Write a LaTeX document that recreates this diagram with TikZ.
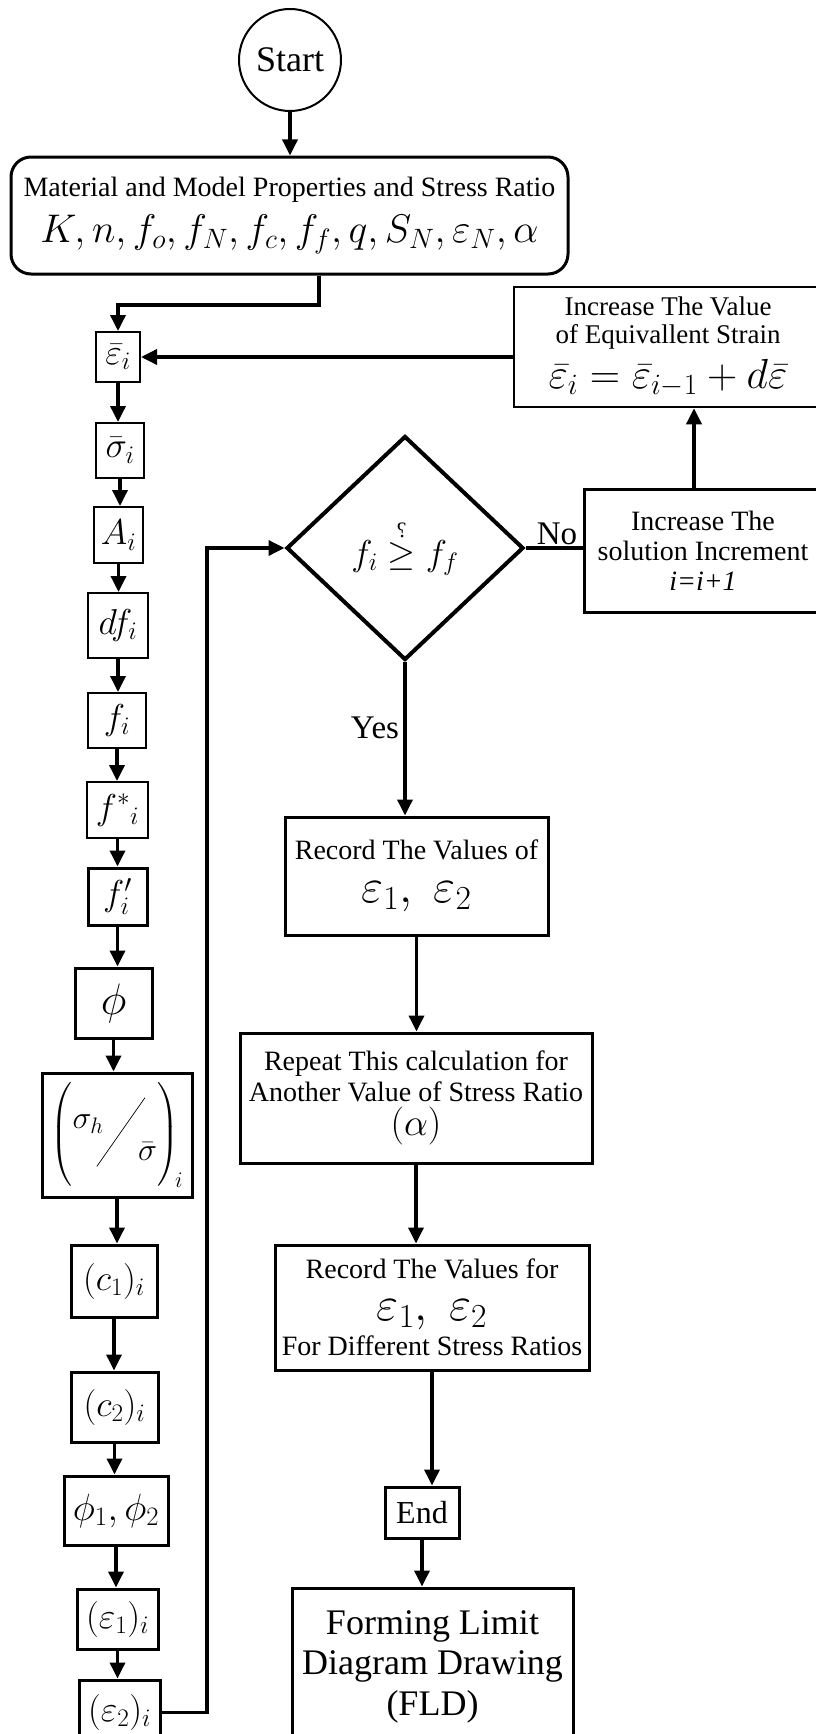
\RequirePackage{fix-cm}
\documentclass[tikz,border=0pt]{standalone}
\usepackage{amsmath}
\usepackage{fontspec}
\setmainfont{Liberation Serif}
\usetikzlibrary{shapes.geometric,arrows.meta}
\tikzset{
  bx/.style={draw, line width=2pt, inner sep=0pt, align=center, font=\fontsize{28}{31}\selectfont},
  bxt/.style={bx, line width=3pt},
  mth/.style={font=\fontsize{36}{40}\selectfont},
  arr/.style={line width=3.5pt, -{Triangle[length=16pt,width=15pt]}},
  ln/.style={line width=3.5pt},
  lbl/.style={inner sep=0pt, font=\fontsize{33}{36}\selectfont, anchor=base},
}
\begin{document}
\begin{tikzpicture}[x=1pt,y=-1pt]
\useasboundingbox (0,0) rectangle (816,1734);
\clip (0,0) rectangle (816,1734);
\fill[white] (0,0) rectangle (816,1734);

% top
\node[draw, circle, line width=2pt, minimum size=102pt, inner sep=0pt, font=\fontsize{36}{40}\selectfont] (start) at (290,60) {Start};
\node[bx, line width=3pt, rounded corners=20pt, minimum width=557pt, minimum height=117pt] (mat) at (289.5,215.5)
 {Material and Model Properties and Stress Ratio\\[12pt]{\fontsize{40}{44}\selectfont$K, n, f_o, f_N, f_c, f_f, q, S_N, \varepsilon_N, \alpha$}};

% left column
\node[bx, mth, minimum width=44pt, minimum height=50pt] (eb) at (118,357) {$\bar{\varepsilon}_i$};
\node[bx, mth, minimum width=48pt, minimum height=55pt] (sb) at (120,450.5) {$\bar{\sigma}_i$};
\node[bx, mth, minimum width=49pt, minimum height=56pt] (Ab) at (118.5,535) {$A_i$};
\node[bx, mth, minimum width=60pt, minimum height=65pt] (dfb) at (118,625.5) {$df_i$};
\node[bx, mth, minimum width=58pt, minimum height=55pt] (fb) at (117,720.5) {$f_i$};
\node[bx, mth, minimum width=61pt, minimum height=56pt] (fsb) at (117.5,810) {$f^{*}{}_{i}$};
\node[bxt, mth, minimum width=59pt, minimum height=57pt] (fpb) at (117.5,896.5) {$f'_i$};
\node[bxt, font=\fontsize{44}{48}\selectfont, minimum width=77pt, minimum height=70pt] (phb) at (113.5,1003) {$\phi$};
\node[bxt, font=\fontsize{32}{40}\selectfont, minimum width=150pt, minimum height=124pt] (shb) at (117,1135)
 {$\Biggl(\raisebox{14pt}{$\sigma_h$}\mkern-4mu\raisebox{10pt}{\rotatebox[origin=c]{55}{\rule{84pt}{0.7pt}}}\mkern-4mu\raisebox{-18pt}{$\bar{\sigma}$}\Biggr)_{\!i}$};
\node[bxt, mth, minimum width=86pt, minimum height=72pt] (c1b) at (114,1281) {$(c_1)_i$};
\node[bxt, mth, minimum width=87pt, minimum height=70pt] (c2b) at (114.5,1407) {$(c_2)_i$};
\node[bxt, font=\fontsize{38}{42}\selectfont, minimum width=104pt, minimum height=69pt] (ppb) at (116,1510.5) {$\phi_1,\phi_2$};
\node[bxt, mth, minimum width=81pt, minimum height=60pt] (e1b) at (117.5,1619) {$(\varepsilon_1)_i$};
\node[bxt, mth, minimum width=81pt, minimum height=65pt] (e2b) at (119.5,1712.5) {$(\varepsilon_2)_i$};

% decision and loop boxes
\node[draw, diamond, line width=4pt, inner sep=0pt, minimum width=237pt, minimum height=224pt, font=\fontsize{36}{40}\selectfont] (dia) at (405,548)
 {$f_i \mathrel{\overset{\text{\fontsize{22}{24}\selectfont\reflectbox{?}}}{\geq}} f_f$};
\node[bxt, minimum width=238pt, minimum height=123pt, font=\fontsize{28}{30}\selectfont] (sol) at (703,551)
 {Increase The\\solution Increment\\\textit{i=i+1}};
\node[bx, line width=2.5pt, minimum width=308pt, minimum height=120pt, font=\fontsize{27}{28}\selectfont] (inc) at (668,347)
 {Increase The Value\\of Equivallent Strain\\[9pt]{\fontsize{42}{44}\selectfont$\bar{\varepsilon}_i = \bar{\varepsilon}_{i-1} + d\bar{\varepsilon}$}};

% right column
\node[bxt, minimum width=263pt, minimum height=118pt] (rec1) at (416.5,876)
 {Record The Values of\\[12pt]{\fontsize{48}{50}\selectfont$\varepsilon_1,\;\varepsilon_2$}};
\node[bxt, minimum width=352pt, minimum height=130pt] (rep) at (416,1098)
 {Repeat This calculation for\\Another Value of Stress Ratio\\[3pt]{\fontsize{38}{40}\selectfont$(\alpha)$}};
\node[bxt, minimum width=314pt, minimum height=125pt] (rec2) at (432,1307.5)
 {Record The Values for\\[11pt]{\fontsize{48}{50}\selectfont$\varepsilon_1,\;\varepsilon_2$}\\[4pt]For Different Stress Ratios};
\node[bxt, minimum width=74pt, minimum height=51pt, font=\fontsize{32}{36}\selectfont] (endb) at (422,1512.5) {End};
\node[bxt, minimum width=281pt, minimum height=157pt, font=\fontsize{36}{40.5}\selectfont] (fld) at (432.5,1666.5)
 {Forming Limit\\Diagram Drawing\\(FLD)};

% labels
\node[lbl] (yes) at (375,738) {Yes};
\node[lbl] (no) at (557,544) {No};

% connectors
\draw[arr] (start.south) -- (start.south |- mat.north);
\draw[arr] (mat.south -| 319,0) -- (319,305) -| (eb.north);
\draw[arr] (eb.south) -- (eb.south |- sb.north);
\draw[arr] (sb.south) -- (sb.south |- Ab.north);
\draw[arr] (Ab.south) -- (Ab.south |- dfb.north);
\draw[arr] (dfb.south) -- (dfb.south |- fb.north);
\draw[arr] (fb.south) -- (fb.south |- fsb.north);
\draw[arr] (fsb.south) -- (fsb.south |- fpb.north);
\draw[arr] (fpb.south) -- (fpb.south |- phb.north);
\draw[arr] (phb.south) -- (phb.south |- shb.north);
\draw[arr] (shb.south) -- (shb.south |- c1b.north);
\draw[arr] (c1b.south) -- (c1b.south |- c2b.north);
\draw[arr] (c2b.south) -- (c2b.south |- ppb.north);
\draw[arr] (ppb.south) -- (ppb.south |- e1b.north);
\draw[arr] (e1b.south) -- (e1b.south |- e2b.north);
\draw[arr] (e2b.east) -| (207,548) -- (dia.west);
\draw[ln] (dia.east) -- (sol.west |- dia.east);
\draw[arr] (sol.north -| 694,0) -- (inc.south -| 694,0);
\draw[arr] (inc.west |- eb.east) -- (eb.east);
\draw[arr] (dia.south) -- (dia.south |- rec1.north);
\draw[arr] (rec1.south) -- (rec1.south |- rep.north);
\draw[arr] (rep.south) -- (rep.south |- rec2.north);
\draw[arr] (rec2.south) -- (rec2.south |- endb.north);
\draw[arr] (endb.south) -- (endb.south |- fld.north);
\end{tikzpicture}
\end{document}
